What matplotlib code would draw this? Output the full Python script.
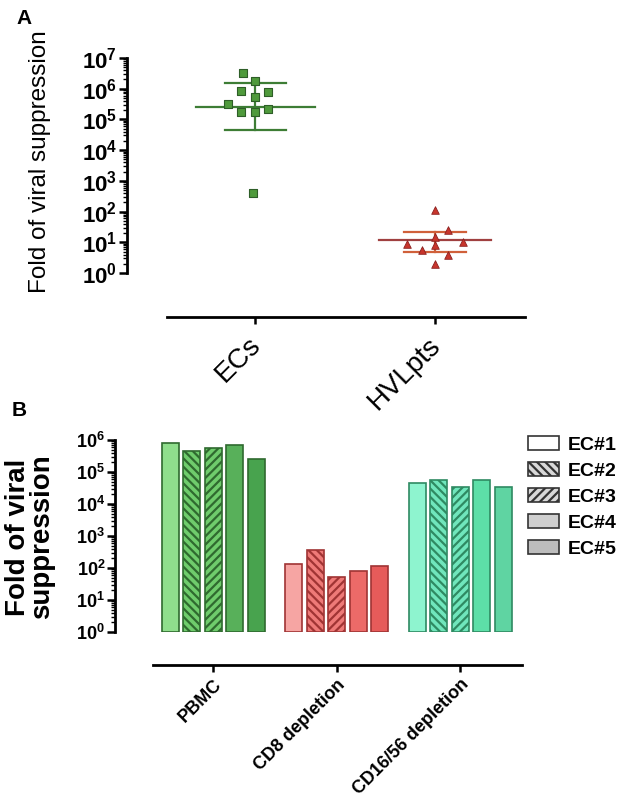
import numpy as np
import matplotlib
matplotlib.use('Agg')
import matplotlib.pyplot as plt
from matplotlib.ticker import LogLocator, FuncFormatter, NullFormatter
from matplotlib.patches import Patch
import matplotlib.transforms as mtrans

plt.rcParams['font.family'] = ['Liberation Sans', 'DejaVu Sans']
plt.rcParams['mathtext.fontset'] = 'custom'
plt.rcParams['mathtext.rm'] = 'Liberation Sans:bold'
plt.rcParams['mathtext.default'] = 'rm'
plt.rcParams['hatch.linewidth'] = 1.6

# ---- panel A data ----
groups_a = ['ECs', 'HVLpts']
ec_vals = [3.2e6, 1.8e6, 8.5e5, 7.9e5, 5.4e5, 3.2e5, 1.7e5, 1.7e5, 2.2e5, 4e2]
ec_jit = [-0.07, 0.0, -0.08, 0.07, 0.0, -0.15, -0.08, 0.0, 0.07, -0.01]
ec_mean, ec_hi, ec_lo = 2.6e5, 1.5e6, 4.6e4
hvl_vals = [110, 25, 10, 8.8, 5.6, 3.9, 2.0, 15, 8]
hvl_jit = [0.0, 0.07, 0.155, -0.155, -0.07, 0.07, 0.0, 0.0, 0.0]
hvl_mean, hvl_hi, hvl_lo = 12, 21, 5

# ---- panel B data ----
conditions = ['PBMC', 'CD8 depletion', 'CD16/56 depletion']
ec_labels = ['EC#1', 'EC#2', 'EC#3', 'EC#4', 'EC#5']
pbmc = [7.9e5, 4.4e5, 5.5e5, 6.8e5, 2.6e5]
cd8 = [130, 365, 54, 78, 112]
cd16 = [4.4e4, 5.5e4, 3.3e4, 5.5e4, 3.3e4]

fig = plt.figure(figsize=(6.32, 8.01), dpi=100)

def logfmt(v, pos):
    return '$10^{%d}$' % int(round(np.log10(v)))

# ================= panel A =================
ax = fig.add_axes([167/632, 1-273/801, 358/632, 215/801])
ax.set_yscale('log')
ax.set_ylim(1, 1e7)
ax.set_xlim(-0.49, 1.5)

# EC error bars (green)
gline = '#3d7d35'
ax.plot([-0.33, 0.33], [ec_mean, ec_mean], color=gline, lw=1.6, zorder=2)
ax.plot([-0.17, 0.17], [ec_hi, ec_hi], color=gline, lw=1.6, zorder=2)
ax.plot([-0.17, 0.17], [ec_lo, ec_lo], color=gline, lw=1.6, zorder=2)
ax.plot([0, 0], [ec_lo, ec_hi], color=gline, lw=1.6, zorder=2)
ax.scatter(np.array(ec_jit), ec_vals, marker='s', s=30, color='#4f9a3c',
           edgecolors='#2e5e28', linewidths=0.8, zorder=3)

# HVL error bars (red)
rline = '#d0603a'
ax.plot([1-0.31, 1+0.31], [hvl_mean, hvl_mean], color='#a04040', lw=1.6, zorder=2)
ax.plot([1-0.17, 1+0.17], [hvl_hi, hvl_hi], color=rline, lw=1.6, zorder=2)
ax.plot([1-0.17, 1+0.17], [hvl_lo, hvl_lo], color=rline, lw=1.6, zorder=2)
ax.plot([1, 1], [hvl_lo, hvl_hi], color=rline, lw=1.6, zorder=2)
ax.scatter(1 + np.array(hvl_jit), hvl_vals, marker='^', s=30, color='#c8352c',
           edgecolors='#8a2020', linewidths=0.6, zorder=3)

for s in ['top', 'right']:
    ax.spines[s].set_visible(False)
ax.spines['left'].set_position(('outward', 28.8))
ax.spines['bottom'].set_position(('outward', 31.7))
ax.spines['left'].set_linewidth(2)
ax.spines['bottom'].set_linewidth(2)
ax.yaxis.set_major_locator(LogLocator(base=10, numticks=10))
ax.yaxis.set_minor_locator(LogLocator(base=10, subs=np.arange(2, 10), numticks=10))
ax.yaxis.set_major_formatter(FuncFormatter(logfmt))
ax.yaxis.set_minor_formatter(NullFormatter())
ax.tick_params(axis='y', which='major', length=6, width=1.8, labelsize=16, pad=1)
ax.tick_params(axis='y', which='minor', length=3, width=1)
ax.set_xticks([0, 1])
ax.set_xticklabels(groups_a, rotation=45, ha='right', rotation_mode='anchor',
                   fontsize=20)
ax.tick_params(axis='x', length=5, width=1.8, pad=6)
shift = mtrans.ScaledTranslation(-8/100, 0, fig.dpi_scale_trans)
for lab in ax.get_xticklabels():
    lab.set_transform(lab.get_transform() + shift)
fig.text(40/632, 1-162/801, 'Fold of viral suppression', rotation=90,
         ha='center', va='center', fontsize=17.5)
fig.text(16/632, 1-18/801, 'A', fontsize=15, fontweight='bold', ha='left', va='center')

# ================= panel B =================
bx = fig.add_axes([153/632, 1-632/801, 369/632, 192/801])
bx.set_yscale('log')
bx.set_ylim(1, 1e6)
bx.set_xlim(-0.486, 2.5)

fills = [['#8fde8c', '#6fcc6c', '#6fcc6c', '#58b05a', '#48a34e'],
         ['#f6a5a3', '#ee7a78', '#ee7a78', '#ec6a68', '#e65b5a'],
         ['#8ef4cf', '#70e6bc', '#70e6bc', '#5ddfa8', '#5fd4a2']]
edges = ['#2f6a2f', '#a03434', '#2f8a62']
hatches = ['', '\\\\\\\\', '////', '', '']
pitch = 0.174
width = 0.137
data_b = [pbmc, cd8, cd16]
for gi, vals in enumerate(data_b):
    for bi, v in enumerate(vals):
        bx.bar(gi + (bi - 2) * pitch, v - 1, bottom=1, width=width,
               color=fills[gi][bi], edgecolor=edges[gi], linewidth=1.2,
               hatch=hatches[bi], zorder=2)

for s in ['top', 'right']:
    bx.spines[s].set_visible(False)
bx.spines['left'].set_position(('outward', 27.4))
bx.spines['bottom'].set_position(('outward', 23.8))
bx.spines['left'].set_linewidth(2)
bx.spines['bottom'].set_linewidth(2)
bx.yaxis.set_major_locator(LogLocator(base=10, numticks=10))
bx.yaxis.set_minor_locator(LogLocator(base=10, subs=np.arange(2, 10), numticks=10))
bx.yaxis.set_major_formatter(FuncFormatter(logfmt))
bx.yaxis.set_minor_formatter(NullFormatter())
bx.tick_params(axis='y', which='major', length=6, width=1.8, labelsize=13, pad=1)
bx.tick_params(axis='y', which='minor', length=3, width=1)
bx.set_xticks(range(len(conditions)))
bx.set_xticklabels(conditions, rotation=45, ha='right', rotation_mode='anchor',
                   fontsize=13, fontweight='bold')
bx.tick_params(axis='x', length=5, width=1.8, pad=3)
fig.text(30/632, 1-537/801, 'Fold of viral\nsuppression', rotation=90,
         ha='center', va='center', fontsize=20, fontweight='bold', linespacing=0.92)
fig.text(12/632, 1-410/801, 'B', fontsize=15, fontweight='bold', ha='left', va='center')

leg_fill = ['white', '#d8d8d8', '#d8d8d8', '#cfcfcf', '#bdbdbd']
handles = [Patch(facecolor=leg_fill[i], edgecolor='#333333', hatch=hatches[i],
                 linewidth=1.2, label=ec_labels[i]) for i in range(len(ec_labels))]
fig.legend(handles=handles, loc='upper left', bbox_to_anchor=(522/632, 1-430/801),
           frameon=False, prop={'weight': 'bold', 'size': 14},
           handlelength=1.6, handleheight=0.75, handletextpad=0.45, labelspacing=0.42,
           borderaxespad=0, borderpad=0.3)

fig.savefig('out.png', dpi=100)
